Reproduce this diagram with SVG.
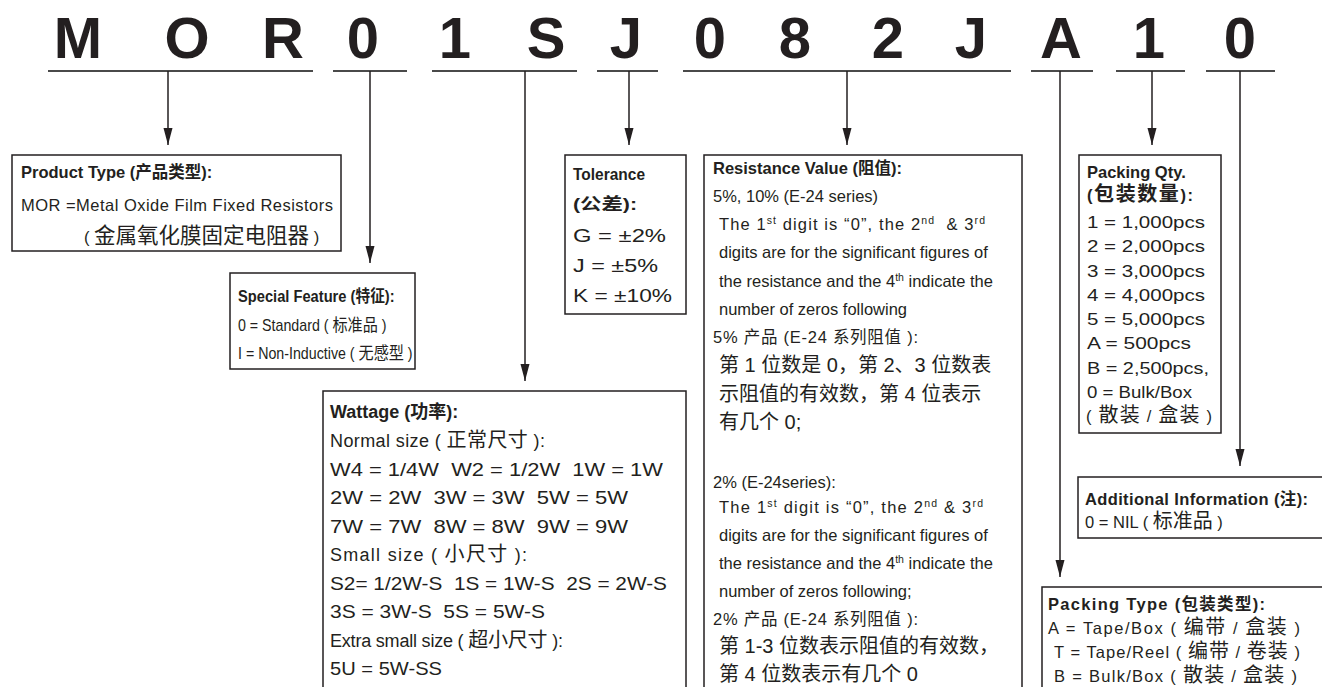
<svg xmlns="http://www.w3.org/2000/svg" width="1322" height="687" viewBox="0 0 1322 687">
<style>
.big{font-family:"Liberation Sans",sans-serif;font-weight:bold;font-size:58px;fill:#231f20;text-anchor:middle}
.ul{stroke:#4a4a4a;stroke-width:2.2;fill:none}
.cn{stroke:#231f20;stroke-width:1.5;fill:none}
.box{fill:#fff;stroke:#231f20;stroke-width:1.5}
.t{font-family:"Liberation Sans","Noto Sans CJK SC",sans-serif;font-size:16.5px;fill:#231f20}
.m{font-size:18px}
.l{font-size:19px}
.n{font-size:16px}
.b{font-weight:bold}
.z{font-size:20px}
.zz{font-size:21.5px}
.zs{font-size:17px}
.s{font-size:10.5px}
</style>
<defs>
<marker id="ah" viewBox="0 0 17 10" refX="17" refY="5" markerWidth="17" markerHeight="10" orient="auto" markerUnits="userSpaceOnUse">
<path d="M0,0.5 L17,5 L0,9.5 z" fill="#231f20"/>
</marker>
</defs>

<g id="code">
<text class="big" x="78" y="58">M</text>
<text class="big" x="187" y="58">O</text>
<text class="big" x="283" y="58">R</text>
<text class="big" x="363" y="58">0</text>
<text class="big" x="455" y="58">1</text>
<text class="big" x="546" y="58">S</text>
<text class="big" x="626" y="58">J</text>
<text class="big" x="710" y="58">0</text>
<text class="big" x="795" y="58">8</text>
<text class="big" x="888" y="58">2</text>
<text class="big" x="971" y="58">J</text>
<text class="big" x="1061" y="58">A</text>
<text class="big" x="1149" y="58">1</text>
<text class="big" x="1240" y="58">0</text>
<path class="ul" d="M48,71H313 M333,71H407 M432,71H577 M597,71H658 M683,71H1011 M1031,71H1093 M1116,71H1185 M1206,71H1275"/>
</g>

<g id="connectors">
<path class="cn" d="M168,71V145" marker-end="url(#ah)"/>
<path class="cn" d="M370,71V263" marker-end="url(#ah)"/>
<path class="cn" d="M525,71V381" marker-end="url(#ah)"/>
<path class="cn" d="M629,71V145" marker-end="url(#ah)"/>
<path class="cn" d="M847,71V145" marker-end="url(#ah)"/>
<path class="cn" d="M1060,71V577" marker-end="url(#ah)"/>
<path class="cn" d="M1152,71V145" marker-end="url(#ah)"/>
<path class="cn" d="M1240,71V466" marker-end="url(#ah)"/>
</g>

<g id="product-type">
<rect class="box" x="12" y="155" width="329" height="96"/>
<text class="t b" x="21" y="178">Product Type (产品类型):</text>
<text class="t" x="21" y="211" textLength="312">MOR =Metal Oxide Film Fixed Resistors</text>
<text class="t" x="84" y="243">( <tspan class="zz">金属氧化膜固定电阻器</tspan> )</text>
</g>

<g id="special-feature">
<rect class="box" x="230" y="273" width="185" height="96"/>
<text class="t b" transform="translate(238,302) scale(0.89,1)">Special Feature (特征):</text>
<text class="t n" transform="translate(238,331) scale(0.89,1)">0 = Standard ( <tspan class="zs">标准品</tspan> )</text>
<text class="t n" transform="translate(238,359) scale(0.89,1)">I = Non-Inductive ( <tspan class="zs">无感型</tspan> )</text>
</g>

<g id="wattage">
<rect class="box" x="323" y="391" width="363" height="310"/>
<text class="t b m" x="330" y="418">Wattage (功率):</text>
<text class="t m" x="330" y="447" textLength="215">Normal size ( <tspan class="z">正常尺寸</tspan> ):</text>
<text class="t m" x="330" y="476" textLength="333" lengthAdjust="spacingAndGlyphs">W4 = 1/4W&#160; W2 = 1/2W&#160; 1W = 1W</text>
<text class="t m" x="330" y="504" textLength="298" lengthAdjust="spacingAndGlyphs">2W = 2W&#160; 3W = 3W&#160; 5W = 5W</text>
<text class="t m" x="330" y="533" textLength="298" lengthAdjust="spacingAndGlyphs">7W = 7W&#160; 8W = 8W&#160; 9W = 9W</text>
<text class="t m" x="330" y="561" textLength="197">Small size ( <tspan class="z">小尺寸</tspan> ):</text>
<text class="t m" x="330" y="590" textLength="337" lengthAdjust="spacingAndGlyphs">S2= 1/2W-S&#160; 1S = 1W-S&#160; 2S = 2W-S</text>
<text class="t m" x="330" y="618" textLength="215" lengthAdjust="spacingAndGlyphs">3S = 3W-S&#160; 5S = 5W-S</text>
<text class="t m" x="330" y="647" textLength="233">Extra small size ( <tspan class="z">超小尺寸</tspan> ):</text>
<text class="t m" x="330" y="675" textLength="112" lengthAdjust="spacingAndGlyphs">5U = 5W-SS</text>
</g>

<g id="tolerance">
<rect class="box" x="565" y="155" width="121" height="159"/>
<text class="t b" x="573" y="180" textLength="72" lengthAdjust="spacingAndGlyphs">Tolerance</text>
<text class="t b" x="573" y="210" textLength="64" lengthAdjust="spacingAndGlyphs">(公差):</text>
<text class="t l" x="573" y="242" textLength="93" lengthAdjust="spacingAndGlyphs">G = ±2%</text>
<text class="t l" x="573" y="272" textLength="85" lengthAdjust="spacingAndGlyphs">J = ±5%</text>
<text class="t l" x="573" y="302" textLength="99" lengthAdjust="spacingAndGlyphs">K = ±10%</text>
</g>

<g id="resistance-value">
<rect class="box" x="704" y="155" width="318" height="546"/>
<text class="t b" x="713" y="174">Resistance Value (阻值):</text>
<text class="t" x="713" y="202">5%, 10% (E-24 series)</text>
<text class="t" x="719" y="230" textLength="266">The 1<tspan class="s" dy="-6">st</tspan><tspan dy="6"> digit is “0”, the 2</tspan><tspan class="s" dy="-6">nd</tspan><tspan dy="6">&#160; &amp; 3</tspan><tspan class="s" dy="-6">rd</tspan></text>
<text class="t" x="719" y="258">digits are for the significant figures of</text>
<text class="t" x="719" y="287">the resistance and the 4<tspan class="s" dy="-6">th</tspan><tspan dy="6"> indicate the</tspan></text>
<text class="t" x="719" y="315">number of zeros following</text>
<text class="t" x="713" y="343" textLength="205">5% 产品 (E-24 系列阻值 ):</text>
<text class="t z" x="719" y="372">第 1 位数是 0，第 2、3 位数表</text>
<text class="t z" x="719" y="401">示阻值的有效数，第 4 位表示</text>
<text class="t z" x="719" y="429">有几个 0;</text>
<text class="t" x="713" y="488">2% (E-24series):</text>
<text class="t" x="719" y="513" textLength="264">The 1<tspan class="s" dy="-6">st</tspan><tspan dy="6"> digit is “0”, the 2</tspan><tspan class="s" dy="-6">nd</tspan><tspan dy="6"> &amp; 3</tspan><tspan class="s" dy="-6">rd</tspan></text>
<text class="t" x="719" y="541">digits are for the significant figures of</text>
<text class="t" x="719" y="569">the resistance and the 4<tspan class="s" dy="-6">th</tspan><tspan dy="6"> indicate the</tspan></text>
<text class="t" x="719" y="597">number of zeros following;</text>
<text class="t" x="713" y="625" textLength="205">2% 产品 (E-24 系列阻值 ):</text>
<text class="t z" x="719" y="653">第 1-3 位数表示阻值的有效数，</text>
<text class="t z" x="719" y="681">第 4 位数表示有几个 0</text>
</g>

<g id="packing-qty">
<rect class="box" x="1079" y="155" width="142" height="278"/>
<text class="t b" x="1087" y="178">Packing Qty.</text>
<text class="t b" x="1087" y="201" textLength="106">(<tspan class="z">包装数量</tspan>):</text>
<text class="t" x="1087" y="228" textLength="118" lengthAdjust="spacingAndGlyphs">1 = 1,000pcs</text>
<text class="t" x="1087" y="252" textLength="118" lengthAdjust="spacingAndGlyphs">2 = 2,000pcs</text>
<text class="t" x="1087" y="277" textLength="118" lengthAdjust="spacingAndGlyphs">3 = 3,000pcs</text>
<text class="t" x="1087" y="301" textLength="118" lengthAdjust="spacingAndGlyphs">4 = 4,000pcs</text>
<text class="t" x="1087" y="325" textLength="118" lengthAdjust="spacingAndGlyphs">5 = 5,000pcs</text>
<text class="t" x="1087" y="349" textLength="104" lengthAdjust="spacingAndGlyphs">A = 500pcs</text>
<text class="t" x="1087" y="374" textLength="122" lengthAdjust="spacingAndGlyphs">B = 2,500pcs,</text>
<text class="t" x="1087" y="398" textLength="105" lengthAdjust="spacingAndGlyphs">0 = Bulk/Box</text>
<text class="t" x="1086" y="422" textLength="126">( <tspan class="z">散装</tspan> / <tspan class="z">盒装</tspan> )</text>
</g>

<g id="additional-info">
<rect class="box" x="1078" y="477" width="260" height="61"/>
<text class="t b" x="1085" y="505" textLength="223">Additional Information (注):</text>
<text class="t" x="1085" y="528">0 = NIL ( <tspan class="z">标准品</tspan> )</text>
</g>

<g id="packing-type">
<rect class="box" x="1042" y="587" width="300" height="120"/>
<text class="t b" x="1048" y="610" textLength="217">Packing Type (包装类型):</text>
<text class="t" x="1048" y="634" textLength="252">A = Tape/Box ( <tspan class="z">编带</tspan> / <tspan class="z">盒装</tspan> )</text>
<text class="t" x="1054" y="658" textLength="246">T = Tape/Reel ( <tspan class="z">编带</tspan> / <tspan class="z">卷装</tspan> )</text>
<text class="t" x="1054" y="682" textLength="243">B = Bulk/Box ( <tspan class="z">散装</tspan> / <tspan class="z">盒装</tspan> )</text>
</g>
</svg>
